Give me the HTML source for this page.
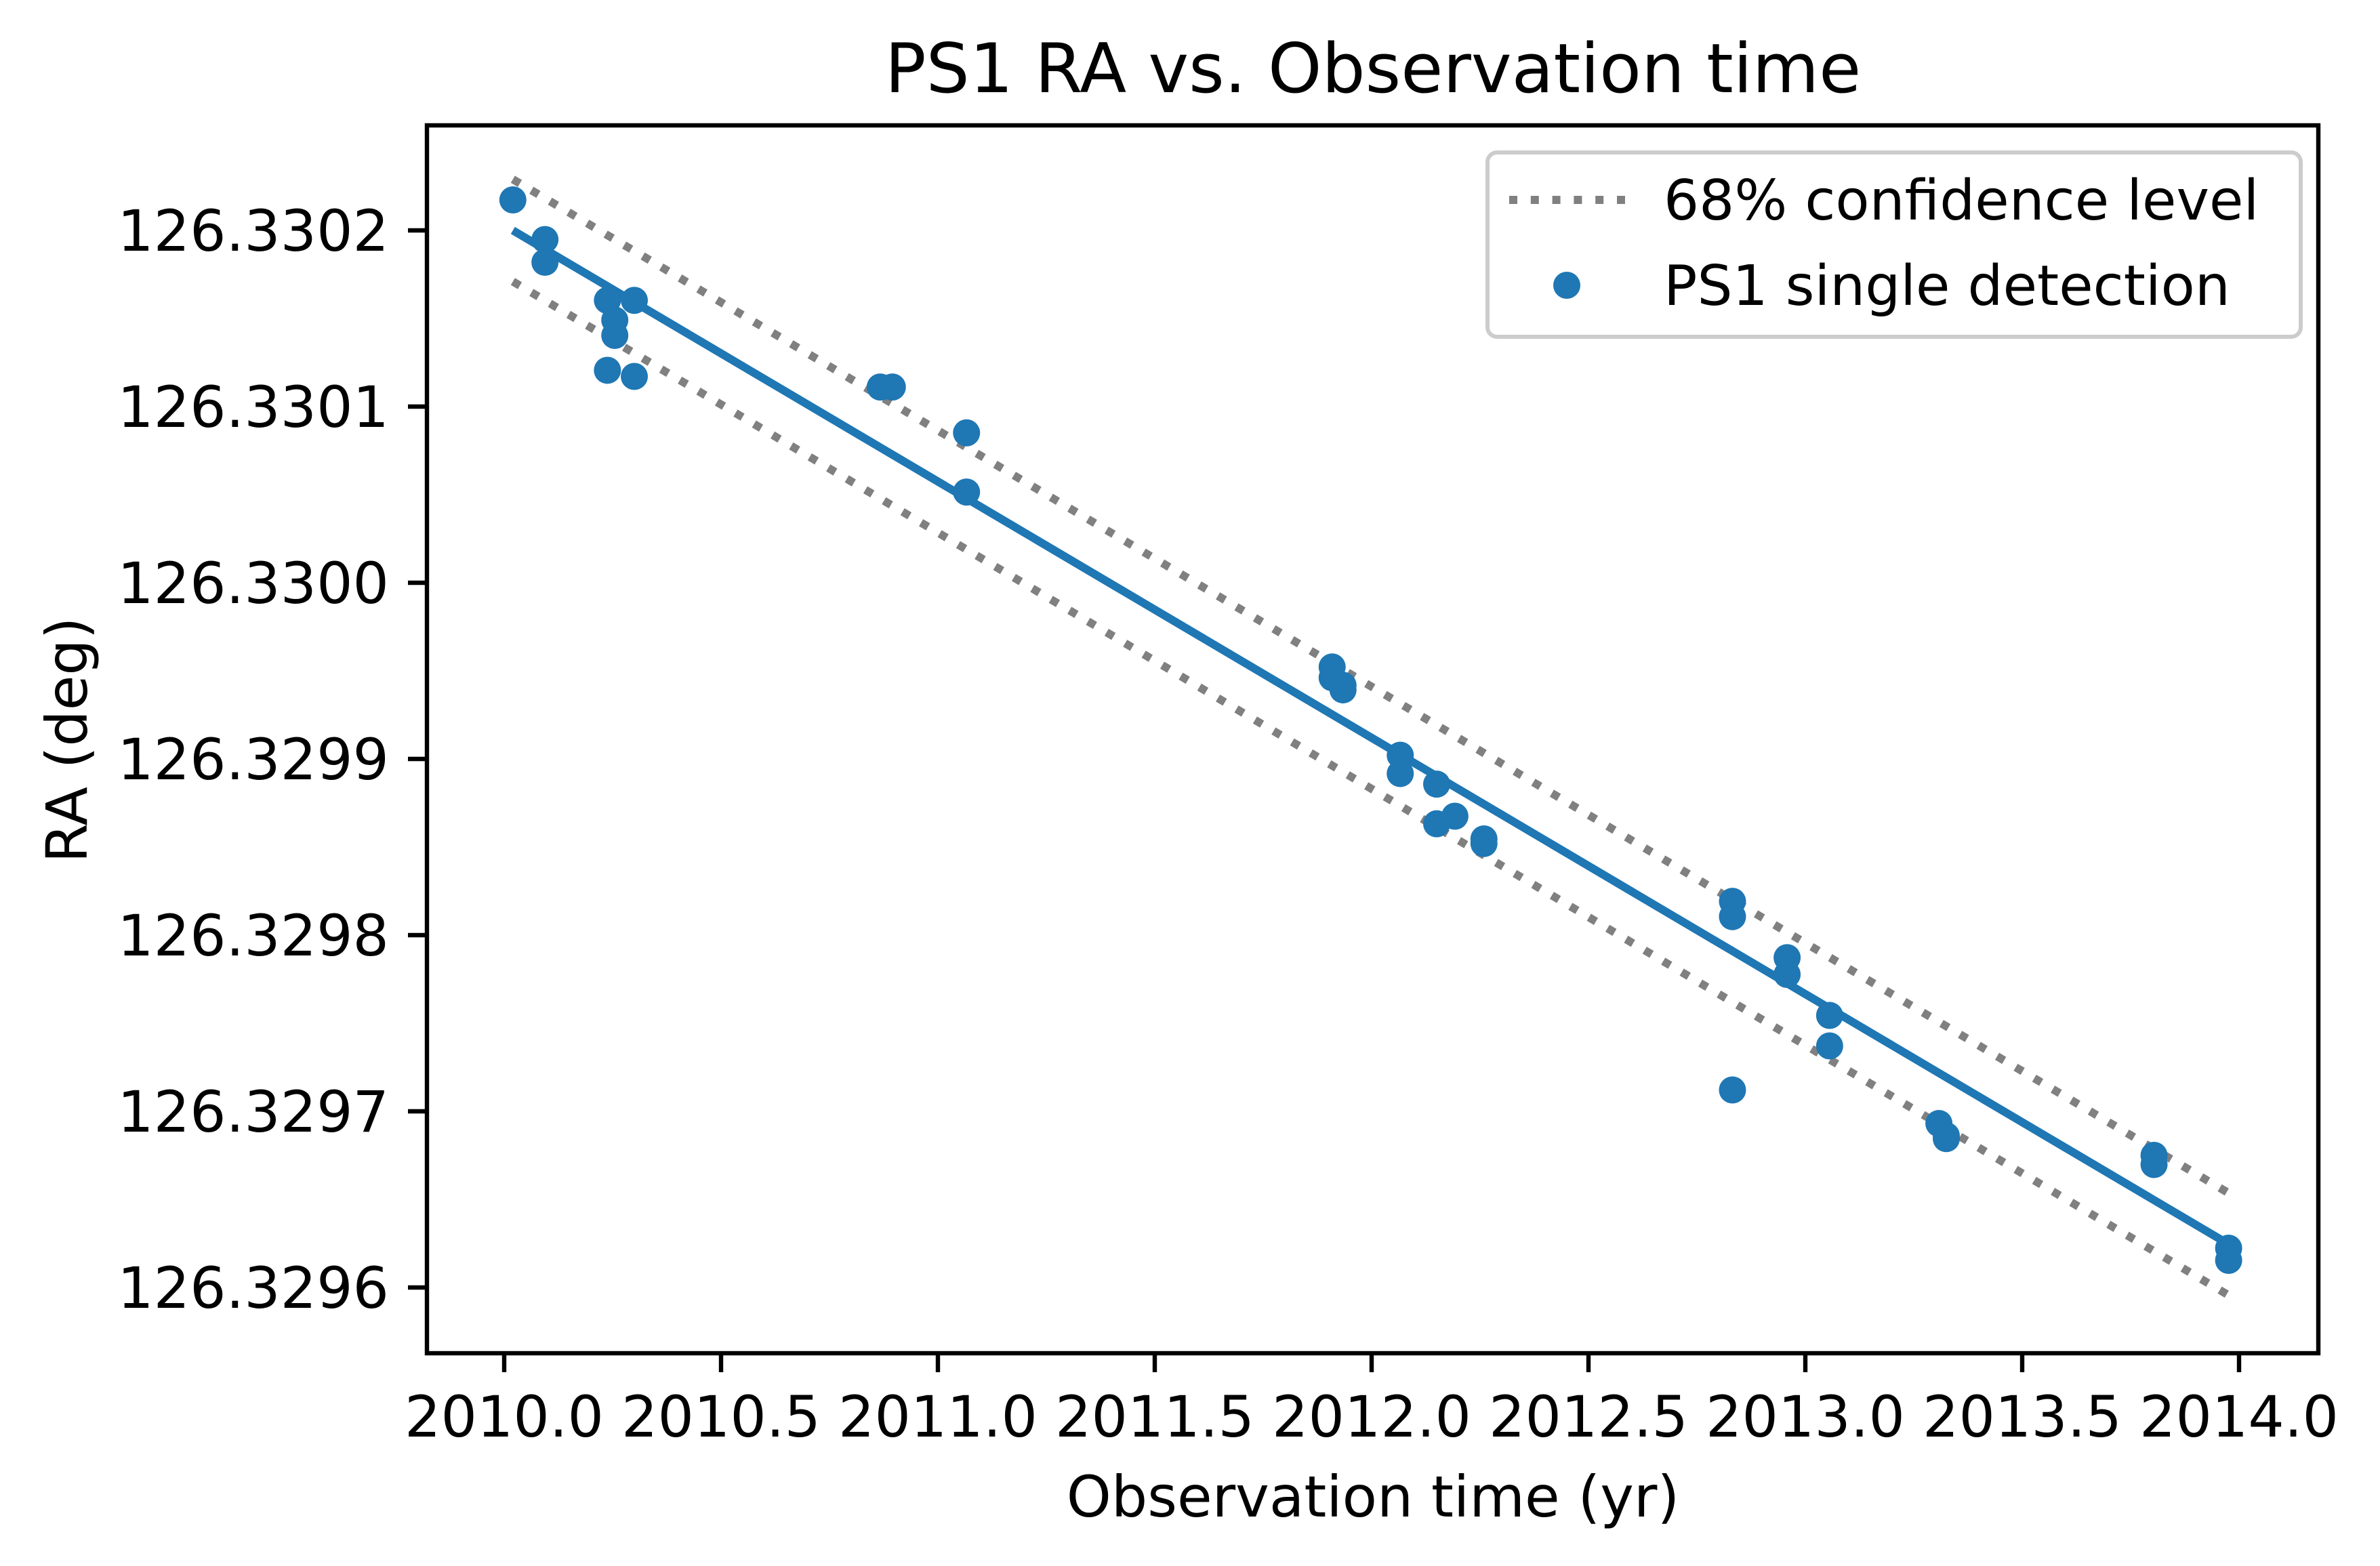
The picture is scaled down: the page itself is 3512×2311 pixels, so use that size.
<!DOCTYPE html>
<html><head><meta charset="utf-8"><style>
html,body{margin:0;padding:0;background:#fff;}
svg{display:block;font-family:"DejaVu Sans","Liberation Sans",sans-serif;}
</style></head><body>
<svg id="chart" width="3512" height="2311" viewBox="0 0 3512 2311" xmlns="http://www.w3.org/2000/svg">
<rect width="3512" height="2311" fill="#fff"/>
<text x="2026" y="136" font-size="101" text-anchor="middle">PS1 RA vs. Observation time</text>
<text x="2026" y="2238" font-size="84" text-anchor="middle">Observation time (yr)</text>
<text transform="translate(128,1092) rotate(-90)" font-size="84" text-anchor="middle">RA (deg)</text>
<g id="plot"></g>
<g id="legend">
<rect x="2195" y="225" width="1200" height="272" rx="14" fill="#fff" fill-opacity="0.8" stroke="#cccccc" stroke-width="6"/>
<line x1="2227" y1="295" x2="2398" y2="295" stroke="#808080" stroke-width="12" stroke-dasharray="12,19.8"/>
<text x="2455" y="324" font-size="82">68% confidence level</text>
<circle cx="2312" cy="421" r="20" fill="#1f77b4"/>
<text x="2455" y="450" font-size="82">PS1 single detection</text>
</g>
</svg>
<script>
// data (RA given as 126.33 + offset*1e-4)
const obsTime = [2010.02,2010.094,2010.094,2010.238,2010.255,2010.255,2010.238,2010.30,2010.30,2010.867,2010.895,2011.066,2011.066,2011.909,2011.909,2011.934,2011.934,2012.066,2012.066,2012.150,2012.150,2012.192,2012.259,2012.259,2012.832,2012.832,2012.832,2012.958,2012.958,2013.056,2013.056,2013.308,2013.325,2013.325,2013.804,2013.804,2013.976,2013.976];
const raOffset = [2.173,1.948,1.819,1.603,1.491,1.404,1.206,1.603,1.171,1.111,1.111,0.851,0.515,-0.478,-0.539,-0.582,-0.608,-0.979,-1.083,-1.143,-1.368,-1.325,-1.454,-1.480,-1.808,-1.895,-2.879,-2.128,-2.223,-2.456,-2.629,-3.069,-3.138,-3.155,-3.250,-3.302,-3.777,-3.846];
const fitTime = [2010.02, 2013.98];
const fitOffset = [2.0, -3.76];
const bandHalfWidth = [0.29];
const xTicks = [2010.0,2010.5,2011.0,2011.5,2012.0,2012.5,2013.0,2013.5,2014.0];
const xTickLabels = ["2010.0","2010.5","2011.0","2011.5","2012.0","2012.5","2013.0","2013.5","2014.0"];
const yTicks = [2,1,0,-1,-2,-3,-4];
const yTickLabels = ["126.3302","126.3301","126.3300","126.3299","126.3298","126.3297","126.3296"];

const L=630,R=3421,T=185,B=1997;
const xs = t => 744 + (t-2010)*640;
const ys = e => 340 + (2-e)*260;
const NS="http://www.w3.org/2000/svg";
const g=document.getElementById('plot');
function mk(tag,attrs){const el=document.createElementNS(NS,tag);for(const k in attrs)el.setAttribute(k,attrs[k]);g.appendChild(el);return el;}

[1,-1].forEach((s,i)=>{
  const el=mk('line',{x1:xs(fitTime[0]),y1:ys(fitOffset[0]+s*bandHalfWidth[0]),x2:xs(fitTime[1]),y2:ys(fitOffset[1]+s*bandHalfWidth[0]),stroke:'#808080','stroke-width':12,'stroke-dasharray':'12,19.8'});
  
  
});
const fl=mk('line',{x1:xs(fitTime[0]),y1:ys(fitOffset[0]),x2:xs(fitTime[1]),y2:ys(fitOffset[1]),stroke:'#1f77b4','stroke-width':12});


obsTime.forEach((t,i)=>{
  const c=mk('circle',{cx:xs(t),cy:ys(raOffset[i]),r:20,fill:'#1f77b4'});
  
  
});
const fr=mk('rect',{x:L,y:T,width:R-L,height:B-T,fill:'none',stroke:'#000','stroke-width':6.4});


xTicks.forEach((t,i)=>{
  const ln=mk('line',{x1:xs(t),y1:B,x2:xs(t),y2:B+28,stroke:'#000','stroke-width':6.4});
  
  
  const tx=mk('text',{x:xs(t),y:2120,'font-size':84,'text-anchor':'middle'});
  tx.textContent=xTickLabels[i];
  
  
});
yTicks.forEach((e,i)=>{
  const ln=mk('line',{x1:L-28,y1:ys(e),x2:L,y2:ys(e),stroke:'#000','stroke-width':6.4});
  
  
  const tx=mk('text',{x:L-56,y:ys(e)+30,'font-size':84,'text-anchor':'end'});
  tx.textContent=yTickLabels[i];
  
  
});
</script>
</body></html>
